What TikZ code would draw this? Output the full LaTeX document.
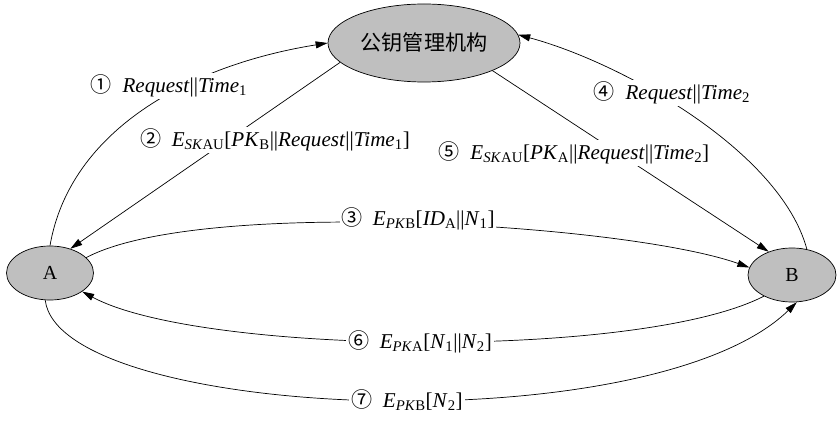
\documentclass[tikz,border=0pt]{standalone}
\usepackage{fontspec}
\setmainfont{Liberation Serif}
\newfontfamily\cjk{Noto Sans CJK SC}
\usetikzlibrary{shapes.geometric, arrows.meta}

\begin{document}
\begin{tikzpicture}[
    x=0.03cm, y=-0.03cm,
    party/.style={ellipse, draw, fill=black!25, line width=0.6pt, inner sep=0pt, font=\fontsize{17}{19}\selectfont},
    msg/.style={fill=white, inner sep=1.5pt, font=\fontsize{18}{21}\selectfont},
    flow/.style={-{Triangle[length=3.6mm, width=2.1mm]}, line width=0.6pt}
]
\useasboundingbox (0,0) rectangle (840,428);

% Parties
\node[party, minimum width=5.76cm, minimum height=2.34cm, font=\cjk\fontsize{18}{20}\selectfont] (kma) at (424,43) {公钥管理机构};
\node[party, minimum width=2.61cm, minimum height=1.62cm] (A) at (50,273) {A};
\node[party, minimum width=2.64cm, minimum height=1.62cm] (B) at (792,275) {B};

% Messages
\draw[flow] (A.north) .. controls (70,130) and (190,65) .. (kma.west);
\draw[flow] (kma.193) -- (A.50);
\draw[flow] (A.23) .. controls (200,197) and (627,224) .. (B.170);
\draw[flow] (B.60) .. controls (780,150) and (620,62) .. (kma.5);
\draw[flow] (kma.338) -- (B.135);
\draw[flow] (B.217) .. controls (640,360) and (200,355) .. (A.330);
\draw[flow] (A.260) .. controls (60,420) and (650,445) .. (B.280);

% Labels
\node[msg] (l1) at (169,86) {{\cjk ①}\enspace\textit{Request}||\textit{Time}\textsubscript{1}};
\node[msg] (l2) at (275,140) {{\cjk ②}\enspace\textit{E}\textsubscript{\textit{SK}AU}[\textit{PK}\textsubscript{B}||\textit{Request}||\textit{Time}\textsubscript{1}]};
\node[msg] (l3) at (418,219) {{\cjk ③}\enspace\textit{E}\textsubscript{\textit{PK}B}[\textit{ID}\textsubscript{A}||\textit{N}\textsubscript{1}]};
\node[msg] (l4) at (672,93) {{\cjk ④}\enspace\textit{Request}||\textit{Time}\textsubscript{2}};
\node[msg] (l5) at (574,153) {{\cjk ⑤}\enspace\textit{E}\textsubscript{\textit{SK}AU}[\textit{PK}\textsubscript{A}||\textit{Request}||\textit{Time}\textsubscript{2}]};
\node[msg] (l6) at (420,342) {{\cjk ⑥}\enspace\textit{E}\textsubscript{\textit{PK}A}[\textit{N}\textsubscript{1}||\textit{N}\textsubscript{2}]};
\node[msg] (l7) at (407,400) {{\cjk ⑦}\enspace\textit{E}\textsubscript{\textit{PK}B}[\textit{N}\textsubscript{2}]};

\end{tikzpicture}
\end{document}
